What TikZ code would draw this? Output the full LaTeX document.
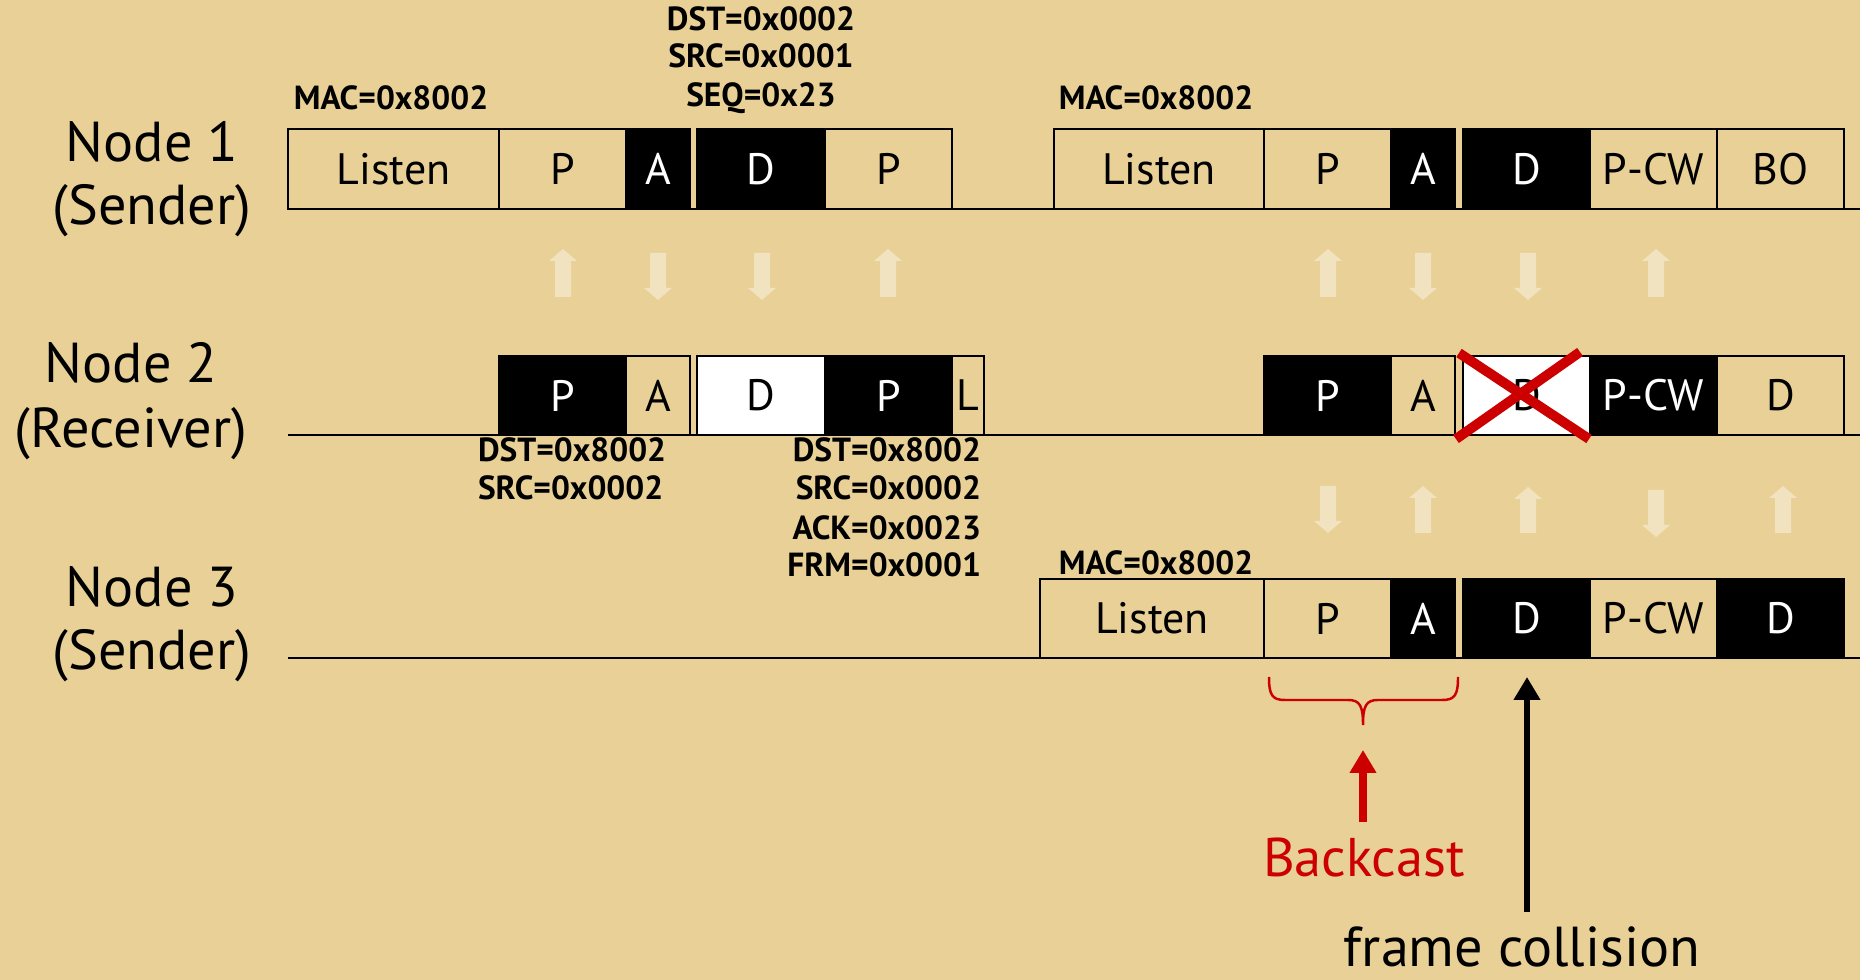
\documentclass[tikz,border=0pt]{standalone}
\usepackage{fontspec}
\setmainfont{PT Sans}
\usetikzlibrary{arrows.meta}
\definecolor{papyrus}{RGB}{232,208,150}
\definecolor{bred}{RGB}{204,0,0}
\newcommand\szBig{\fontsize{16}{19}\selectfont}
\newcommand\szSlot{\fontsize{12.5}{15}\selectfont}
\newcommand\szLab{\fontsize{9.5}{11}\selectfont\bfseries}
\newcommand\tslot[7]{\node[#2, minimum width={(#4-#3)*0.01cm}, minimum height={(#6-#5)*0.01cm}] (#1) at ({(#3+#4)/2},{(#5+#6)/2}) {#7};}
\newcommand\faintup[3]{\fill[faint] ({#1-8},#3) -- ({#1-8},{#2+12}) -- ({#1-14},{#2+12}) -- (#1,#2) -- ({#1+14},{#2+12}) -- ({#1+8},{#2+12}) -- ({#1+8},#3) -- cycle;}
\newcommand\faintdown[3]{\fill[faint] ({#1-8},#2) -- ({#1-8},{#3-12}) -- ({#1-14},{#3-12}) -- (#1,#3) -- ({#1+14},{#3-12}) -- ({#1+8},{#3-12}) -- ({#1+8},#2) -- cycle;}
\begin{document}
\begin{tikzpicture}[x=0.01cm,y=-0.01cm,
  every node/.style={inner sep=0pt, outer sep=0pt},
  eslot/.style={draw=black, line width=0.6pt, font=\szSlot},
  bslot/.style={draw=black, fill=black, text=white, line width=0.6pt, font=\szSlot},
  wslot/.style={draw=black, fill=white, line width=0.6pt, font=\szSlot},
  rowlabel/.style={font=\szBig, anchor=base},
  fieldlab/.style={font=\szLab, anchor=base},
  faint/.style={fill=white, fill opacity=0.4},
  timeline/.style={line width=0.6pt},
]
\fill[papyrus] (0,0) rectangle (1860,980);
\useasboundingbox (0,0) rectangle (1860,980);

% timelines
\coordinate (t1s) at (288,209); \coordinate (t1e) at (1860,209);
\coordinate (t2s) at (288,435); \coordinate (t2e) at (1860,435);
\coordinate (t3s) at (288,658); \coordinate (t3e) at (1860,658);
\draw[timeline] (t1s) -- (t1e);
\draw[timeline] (t2s) -- (t2e);
\draw[timeline] (t3s) -- (t3e);

% row 1
\tslot{a1}{eslot}{288}{499}{129}{209}{Listen}
\tslot{a2}{eslot}{499}{626}{129}{209}{P}
\tslot{a3}{bslot}{626}{690}{129}{209}{A}
\tslot{a4}{bslot}{697}{825}{129}{209}{D}
\tslot{a5}{eslot}{825}{952}{129}{209}{P}
\tslot{a6}{eslot}{1054}{1264}{129}{209}{Listen}
\tslot{a7}{eslot}{1264}{1391}{129}{209}{P}
\tslot{a8}{bslot}{1391}{1455}{129}{209}{A}
\tslot{a9}{bslot}{1463}{1590}{129}{209}{D}
\tslot{a10}{eslot}{1590}{1717}{129}{209}{P-CW}
\tslot{a11}{eslot}{1717}{1844}{129}{209}{BO}

% row 2
\tslot{b1}{bslot}{499}{626}{356}{435}{P}
\tslot{b2}{eslot}{626}{690}{356}{435}{A}
\tslot{b3}{wslot}{697}{825}{356}{435}{D}
\tslot{b4}{bslot}{825}{952}{356}{435}{P}
\tslot{b5}{eslot}{952}{984}{356}{435}{L}
\tslot{b6}{bslot}{1264}{1391}{356}{435}{P}
\tslot{b7}{eslot}{1391}{1455}{356}{435}{A}
\tslot{b8}{wslot}{1463}{1590}{356}{435}{D}
\tslot{b9}{bslot}{1590}{1717}{356}{435}{P-CW}
\tslot{b10}{eslot}{1717}{1844}{356}{435}{D}

% row 3
\tslot{c1}{eslot}{1040}{1264}{579}{658}{Listen}
\tslot{c2}{eslot}{1264}{1391}{579}{658}{P}
\tslot{c3}{bslot}{1391}{1455}{579}{658}{A}
\tslot{c4}{bslot}{1463}{1590}{579}{658}{D}
\tslot{c5}{eslot}{1590}{1717}{579}{658}{P-CW}
\tslot{c6}{bslot}{1717}{1844}{579}{658}{D}

% collision cross
\draw[bred, line width=2.8pt] (1459,353) -- (1589,439);
\draw[bred, line width=2.8pt] (1456,439) -- (1580,352);

% faint arrows rows 1-2
\faintup{563}{249}{297}
\faintdown{658}{253}{300}
\faintdown{762}{253}{300}
\faintup{888}{249}{297}
\faintup{1328}{249}{297}
\faintdown{1423}{253}{300}
\faintdown{1528}{253}{300}
\faintup{1656}{249}{297}
% faint arrows rows 2-3
\faintdown{1328}{486}{533}
\faintup{1423}{486}{533}
\faintup{1528}{487}{533}
\faintdown{1656}{490}{537}
\faintup{1783}{486}{533}

% row labels
\node[rowlabel] (l1a) at (152,162) {Node 1};
\node[rowlabel] (l1b) at (152,225) {(Sender)};
\node[rowlabel] (l2a) at (131,383) {Node 2};
\node[rowlabel] (l2b) at (131,448) {(Receiver)};
\node[rowlabel] (l3a) at (152,607) {Node 3};
\node[rowlabel] (l3b) at (152,670) {(Sender)};

% field labels
\node[fieldlab] (m1) at (391,110) {MAC=0x8002};
\node[fieldlab] (m2) at (1156,110) {MAC=0x8002};
\node[fieldlab] (m3) at (1156,575) {MAC=0x8002};
\node[fieldlab] (d1) at (761,31) {DST=0x0002};
\node[fieldlab] (d2) at (761,68) {SRC=0x0001};
\node[fieldlab] (d3) at (761,107) {SEQ=0x23};
\node[fieldlab, anchor=base west] (p1) at (478,462) {DST=0x8002};
\node[fieldlab, anchor=base west] (p2) at (478,500) {SRC=0x0002};
\node[fieldlab, anchor=base east] (q1) at (981,462) {DST=0x8002};
\node[fieldlab, anchor=base east] (q2) at (981,500) {SRC=0x0002};
\node[fieldlab, anchor=base east] (q3) at (981,540) {ACK=0x0023};
\node[fieldlab, anchor=base east] (q4) at (981,577) {FRM=0x0001};

% backcast brace
\draw[bred, line width=0.7pt] (1269,677) .. controls (1269,695) and (1272,700) .. (1285,700) -- (1348,700) .. controls (1360,700) and (1363,706) .. (1363,725) .. controls (1363,706) and (1366,700) .. (1378,700) -- (1442,700) .. controls (1455,700) and (1458,695) .. (1458,677);

\node[font=\fontsize{15.5}{18}\selectfont, text=bred, anchor=base] (bc) at (1364,877) {Backcast};
\coordinate (bctip) at (1363,750);
\draw[bred, line width=2pt, -{Triangle[width=7.2pt,length=6.5pt]}] ([yshift=0.16cm]bctip |- bc.north) -- (bctip);

\node[font=\fontsize{16}{19}\selectfont, anchor=base] (fc) at (1522,967) {frame collision};
\coordinate (fctip) at (1527,677);
\draw[black, line width=1.7pt, -{Triangle[width=7.2pt,length=6.5pt]}] ([yshift=0.15cm]fctip |- fc.north) -- (fctip);
\end{tikzpicture}
\end{document}
